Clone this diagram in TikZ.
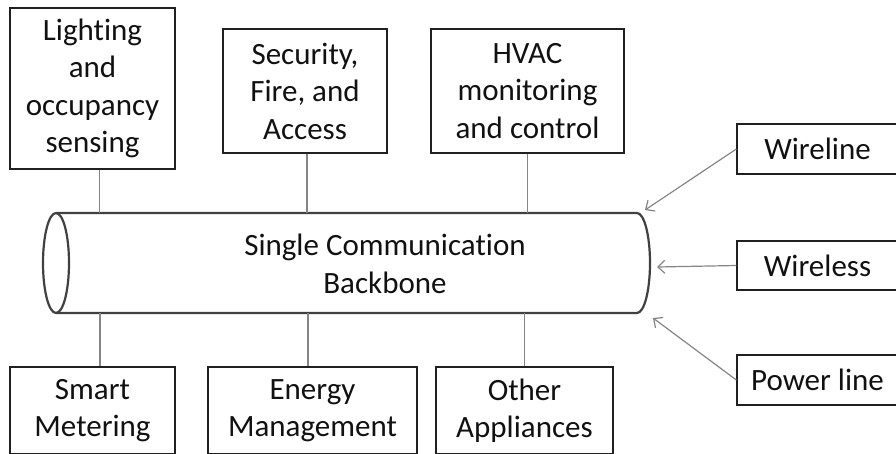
\documentclass[tikz,border=0pt]{standalone}
\usepackage{fontspec}
\setmainfont[Ligatures=NoCommon]{Carlito}
\usetikzlibrary{arrows.meta}
\definecolor{boxline}{HTML}{202020}
\definecolor{connline}{HTML}{858585}
\definecolor{cylline}{HTML}{404040}
\definecolor{txtcol}{HTML}{111111}
\tikzset{
  box/.style={draw=boxline, line width=1.3pt, inner sep=0pt, align=center,
    text=txtcol, font=\fontsize{31}{37.5}\selectfont},
  conn/.style={draw=connline, line width=1.2pt},
  arr/.style={conn, -{Straight Barb[length=7pt,width=13pt,line width=1.2pt]}},
}
\begin{document}
\begin{tikzpicture}[x=1pt,y=1pt]
\useasboundingbox (0,0) rectangle (896,-453);
% top boxes
\node[box, minimum width=165pt, minimum height=161pt] (light) at (92.5,-88.5) {Lighting\\and\\occupancy\\sensing};
\node[box, minimum width=164pt, minimum height=124pt] (sec) at (305,-91) {Security,\\Fire, and\\Access};
\node[box, minimum width=193pt, minimum height=124pt] (hvac) at (527.5,-91) {HVAC\\monitoring\\and control};
% bottom boxes
\node[box, minimum width=165pt, minimum height=87pt] (smart) at (92.5,-410.5) {Smart\\Metering};
\node[box, minimum width=209pt, minimum height=87pt] (energy) at (312.5,-410.5) {Energy\\Management};
\node[box, minimum width=177pt, minimum height=87pt] (other) at (524.5,-410.5) {Other\\Appliances};
% right boxes
\node[box, minimum width=161pt, minimum height=50pt] (wline) at (817.5,-149) {Wireline};
\node[box, minimum width=161pt, minimum height=49pt] (wless) at (817.5,-265.5) {Wireless};
\node[box, minimum width=161pt, minimum height=50pt] (pline) at (817.5,-380) {Power line};
% cylinder
\node[inner sep=0pt, minimum width=594pt, minimum height=100pt] (bb) at (353,-263) {};
\draw[draw=cylline, line width=2.2pt, line join=round] (56,-213) -- (637,-213)
  arc[start angle=90, end angle=-90, x radius=13pt, y radius=50pt] -- (56,-313);
\draw[draw=cylline, line width=2.2pt] (56,-263) ellipse [x radius=13pt, y radius=50pt];
\node[inner sep=0pt, align=center, text=txtcol, font=\fontsize{31}{37.5}\selectfont] (txt) at (385,-264) {Single Communication\\Backbone};
% connectors
\draw[conn] ([xshift=7pt]light.south) -- ([xshift=7pt]light.south |- bb.north);
\draw[conn] ([xshift=2pt]sec.south) -- ([xshift=2pt]sec.south |- bb.north);
\draw[conn] (hvac.south) -- (hvac.south |- bb.north);
\draw[conn] ([xshift=7.5pt]smart.north) -- ([xshift=7.5pt]smart.north |- bb.south);
\draw[conn] ([xshift=-4.5pt]energy.north) -- ([xshift=-4.5pt]energy.north |- bb.south);
\draw[conn] (other.north) -- (other.north |- bb.south);
% arrows
\coordinate (a1) at (645,-210);
\coordinate (a2) at (657,-267);
\coordinate (a3) at (653,-318);
\draw[arr] (wline.west) -- (a1);
\draw[arr] (wless.west) -- (a2);
\draw[arr] (pline.west) -- (a3);
\end{tikzpicture}
\end{document}
